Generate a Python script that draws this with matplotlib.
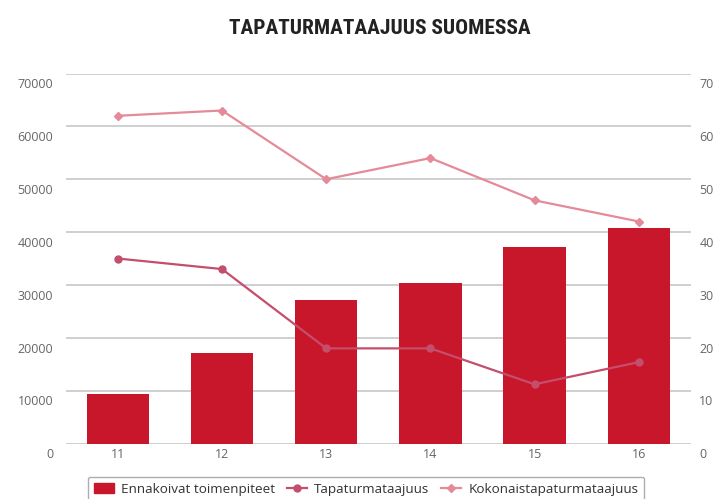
import matplotlib
matplotlib.use('Agg')
from matplotlib import pyplot as plt
from matplotlib import font_manager
from matplotlib.transforms import ScaledTranslation
from matplotlib.lines import Line2D
from matplotlib.patches import Patch
import numpy as np

years = ['11', '12', '13', '14', '15', '16']
ennakoivat = [9300, 17100, 27100, 30300, 37200, 40800]
tapaturmataajuus = [35.0, 33.0, 18.0, 18.0, 11.2, 15.4]
kokonais = [62.0, 63.0, 50.0, 54.0, 46.0, 42.0]

left_ticks = [0, 10000, 20000, 30000, 40000, 50000, 60000, 70000]
right_ticks = [0, 10, 20, 30, 40, 50, 60, 70]

bar_color = '#c8162a'
tapa_color = '#c44e6c'
koko_color = '#e58a98'
grid_color = '#cccccc'
text_color = '#666666'

plt.rcParams['font.family'] = ['Open Sans', 'DejaVu Sans']

fig = plt.figure(figsize=(7.18, 4.99), dpi=100)
ax = fig.add_axes([0.0915, 0.1112, 0.8708, 0.7415])
ax2 = ax.twinx()

x = np.arange(len(years))
ax.bar(x, ennakoivat, width=0.6, color=bar_color, zorder=2)
ax2.plot(x, tapaturmataajuus, color=tapa_color, lw=1.6, marker='o', ms=5, zorder=3)
ax2.plot(x, kokonais, color=koko_color, lw=1.6, marker='D', ms=4, zorder=3)

ax.set_xlim(-0.5, 5.5)
ax.set_ylim(0, 70000)
ax2.set_ylim(0, 70)
ax.set_xticks(x, years)
ax.set_yticks(left_ticks, [str(t) for t in left_ticks])
ax2.set_yticks(right_ticks, [str(t) for t in right_ticks])

ax.grid(axis='y', color=grid_color, lw=1.3, zorder=0)
ax.set_axisbelow(True)
for a in (ax, ax2):
    for s in a.spines.values():
        s.set_visible(False)
ax.tick_params(axis='y', length=0, pad=9, labelsize=9, labelcolor=text_color)
ax2.tick_params(axis='y', length=0, pad=6, labelsize=9, labelcolor=text_color)
ax.tick_params(axis='x', length=0, pad=3, labelsize=9, labelcolor=text_color)

# labels sit a little below their grid lines
offset = ScaledTranslation(0, -7 / 72, fig.dpi_scale_trans)
for a in (ax, ax2):
    for tick in a.yaxis.get_major_ticks():
        tick.label1.set_transform(tick.label1.get_transform() + offset)
        tick.label2.set_transform(tick.label2.get_transform() + offset)

# narrowest bold family that is installed
installed = {f.name for f in font_manager.fontManager.ttflist}
title_family = 'DejaVu Sans'
for name in ['Liberation Sans Narrow', 'DejaVu Sans Condensed', 'Roboto Condensed', 'Open Sans Condensed']:
    if name in installed:
        title_family = name
        break
fig.text(380 / 718, 1 - 28 / 499, 'TAPATURMATAAJUUS SUOMESSA', ha='center', va='center',
         fontsize=15.4, fontweight='bold', fontstretch='condensed', color='#222222',
         family=title_family)

handles = [
    Patch(color=bar_color),
    Line2D([], [], color=tapa_color, lw=1.6, marker='o', ms=5),
    Line2D([], [], color=koko_color, lw=1.6, marker='D', ms=4),
]
labels = ['Ennakoivat toimenpiteet', 'Tapaturmataajuus', 'Kokonaistapaturmataajuus']
leg = fig.legend(handles, labels, loc='upper center', bbox_to_anchor=(366 / 718, 1 - 470 / 499),
                 ncol=3, fontsize=9.7, frameon=True, fancybox=True, edgecolor='#999999',
                 handlelength=1.5, handletextpad=0.5, columnspacing=0.9, borderpad=0.45)
for t in leg.get_texts():
    t.set_color('#333333')

fig.savefig('out.png', dpi=100)
